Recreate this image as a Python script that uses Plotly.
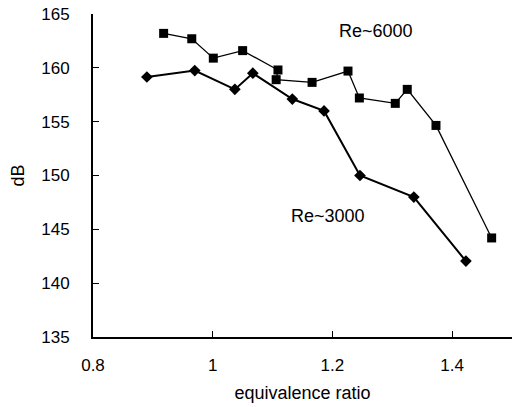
import plotly.graph_objects as go

# Re ~ 6000 series (square markers)
phi_6000 = [0.918, 0.965, 1.001, 1.050, 1.109, 1.106, 1.166, 1.226, 1.245, 1.305, 1.325, 1.373, 1.466]
db_6000 = [163.2, 162.7, 160.9, 161.6, 159.8, 158.9, 158.65, 159.7, 157.2, 156.7, 158.0, 154.65, 144.2]

# Re ~ 3000 series (diamond markers)
phi_3000 = [0.890, 0.970, 1.037, 1.067, 1.133, 1.186, 1.246, 1.336, 1.423]
db_3000 = [159.15, 159.75, 158.0, 159.5, 157.1, 156.0, 150.0, 148.0, 142.05]

x_ticks = [0.8, 1.0, 1.2, 1.4]
x_tick_text = ["0.8", "1", "1.2", "1.4"]
y_ticks = [135, 140, 145, 150, 155, 160, 165]

FONT = "Liberation Sans, Arial, Helvetica, sans-serif"

fig = go.Figure()
fig.add_trace(go.Scatter(
    x=phi_6000, y=db_6000, mode="lines+markers",
    line=dict(color="black", width=1.3),
    marker=dict(symbol="square", size=9, color="black"),
    showlegend=False,
))
fig.add_trace(go.Scatter(
    x=phi_3000, y=db_3000, mode="lines+markers",
    line=dict(color="black", width=2),
    marker=dict(symbol="diamond", size=9, color="black"),
    showlegend=False,
))

fig.add_annotation(x=1.273, y=163.4, text="Re~6000", showarrow=False,
                   font=dict(family=FONT, size=18, color="black"))
fig.add_annotation(x=1.193, y=146.2, text="Re~3000", showarrow=False,
                   font=dict(family=FONT, size=18, color="black"))

fig.update_layout(
    width=512, height=407,
    margin=dict(l=93, r=0, t=14, b=70),
    paper_bgcolor="white", plot_bgcolor="white",
    font=dict(family=FONT, size=17, color="black"),
    xaxis=dict(
        range=[0.8, 1.5], tickvals=x_ticks, ticktext=x_tick_text,
        ticks="inside", ticklen=6, tickwidth=1, tickcolor="black",
        showline=True, linecolor="black", linewidth=2,
        showgrid=False, zeroline=False, ticklabelstandoff=12,
        title=dict(text="equivalence ratio", font=dict(size=18), standoff=12),
    ),
    yaxis=dict(
        range=[135, 165], tickvals=y_ticks,
        ticks="inside", ticklen=6, tickwidth=1, tickcolor="black",
        showline=True, linecolor="black", linewidth=2,
        showgrid=False, zeroline=False, ticklabelstandoff=18,
        title=dict(text="dB", font=dict(size=18), standoff=12),
    ),
)

fig.write_html("out.html")
